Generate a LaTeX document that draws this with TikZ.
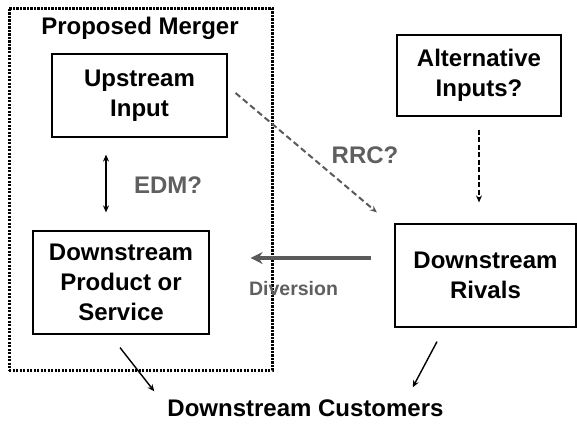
\documentclass[tikz,border=0pt]{standalone}
\usepackage{fontspec}
\setmainfont{Liberation Sans}
\usetikzlibrary{arrows.meta}
\definecolor{labelgray}{RGB}{95,95,95}
\definecolor{arrowgray}{RGB}{90,90,90}

\begin{document}
\begin{tikzpicture}[>={Stealth[length=7pt,width=6pt]}, x=1pt, y=-1pt,
  box/.style={shape=rectangle, draw, line width=1.2pt, align=center,
    font=\fontsize{24}{30}\selectfont\bfseries},
  lbl/.style={text=labelgray, inner sep=0pt, font=\fontsize{24}{28}\selectfont\bfseries},
  thin arrow/.style={->, line width=1.4pt}]
\useasboundingbox (0,0) rectangle (577,424);
\node (merger) at (140.5,189) [draw, line width=3pt, dash pattern=on 2.4pt off 1.1pt,
  minimum width=263, minimum height=362] {};
\node (title) at (140,28) [inner sep=0pt, font=\fontsize{24}{28}\selectfont\bfseries] {Proposed Merger};
\node  (up) at (139.5,95.5) [box, minimum width=175, minimum height=83] {Upstream\\Input};
\node (prod) at (121,282.5) [box, minimum width=176, minimum height=103] {Downstream\\Product or\\Service};
\node (alt) at (479,75.5) [box, minimum width=164, minimum height=81] {Alternative\\Inputs?};
\node (riv) at (485.5,275.5) [box, minimum width=181, minimum height=103] {Downstream\\Rivals};
\node (cust) at (305.5,408) [inner sep=0pt, font=\fontsize{24}{28}\selectfont\bfseries] {Downstream Customers};
\node (edm) at (168,185) [lbl] {EDM?};
\node (rrc) at (365,155) [lbl] {RRC?};
\node (div) at (293.5,289) [lbl, font=\fontsize{19.5}{24}\selectfont\bfseries] {Diversion};
\draw [thin arrow, <->] ([xshift=-33.5,yshift=-17]up.south) -- ([xshift=-15,yshift=18]prod.north);
\draw [->, arrowgray, line width=2pt, dash pattern=on 6pt off 3.5pt] ([xshift=8,yshift=2.5]up.east) -- ([xshift=-17.5,yshift=11]riv.north west);
\draw [->, line width=1.3pt, dash pattern=on 5pt off 2.5pt, shorten <=13pt, shorten >=21pt] (alt.south) -- (alt.south |- riv.north);
\draw [-{Stealth[length=12pt,width=12pt]}, arrowgray, line width=4pt] ([xshift=-23,yshift=17.5]riv.west) -- ([xshift=41,yshift=24.5]prod.east);
\draw [thin arrow] ([xshift=-1,yshift=-13]prod.south) -- ([xshift=-13,yshift=8]cust.north west);
\draw [thin arrow] ([xshift=-48.5,yshift=-14]riv.south) -- ([xshift=-31,yshift=12]cust.north east);
\end{tikzpicture}
\end{document}
